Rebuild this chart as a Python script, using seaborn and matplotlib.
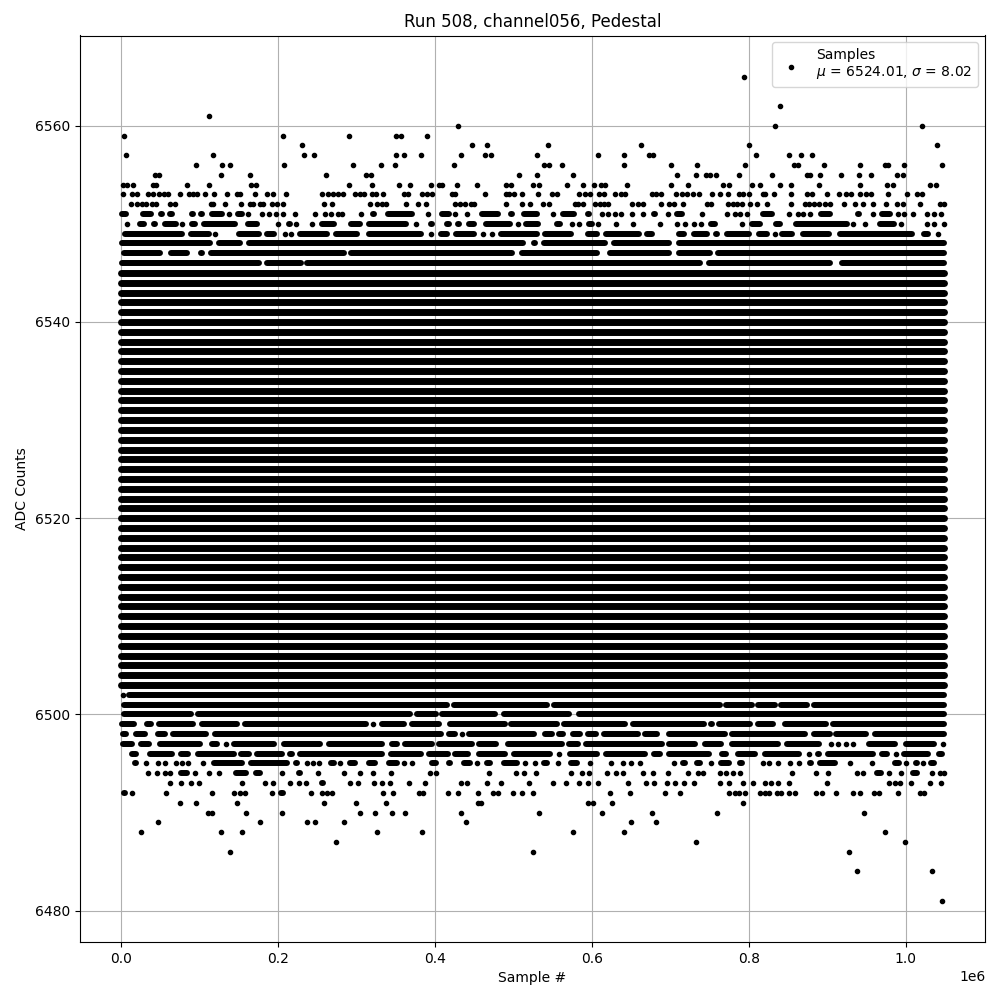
import matplotlib
matplotlib.use("Agg")
import matplotlib.pyplot as plt
import pandas as pd
import seaborn as sns

# sample positions in thousands
# a plain number is one dot, a tuple is a stretch of touching dots (outer edges)
row_6565 = [794]
row_6562 = [839]
row_6561 = [112]
row_6560 = [429, 833, 1020]
row_6559 = [4, 206, 290, 350, 357, 390]
row_6558 = [231, 447, 466, 544, 662, 800, 1039]
row_6557 = [6, 117, 233, 246, 350, 360, 382, 433, 464, 471, 530, 608, 641, 673, 678, 809, 851, 866, 880]
row_6556 = [96, 129, 139, 208, 296, 331, 349, 424, 539, 545, 562, 641, 701, 734, 795, 857, 862, 896, 941, 973, 977, 997, 1046]
row_6555 = [43, 48, 127, 164, 261, 312, 318, 507, 530, 576, 708, 732, 745, 750, 758, 787, 829, 874, 878, 890, 917, 940, 955, 989, 996]
row_6554 = [2.5, 8, 15, 40, 44, 84, 112, 166, 172, 290, 320, 354, 368, 395, 405, 409, 428, 453, 490, 497, 525, 532, 568, 589,
            602, 612, 616, 644, 701, 722, 767, 775, 804, 814, 839, 853, 889, 941, 976, 984, 1031, 1038]
row_6553 = [2.5, 14, 20, 34, 41, 48, 54, 60, 75, 87, 92, 97, 107, 118, 135, 147, 152, 171, 186, 193, 210, 256, 264, 270, 276,
            283, 298, 304, 310, 320, 325, 334, 361, 366, 383, 390, 396, 421, 426, 464, 490, 494, 500, 511, 531, 549, 555,
            583, 591, 598, 609, 615, 629, 637, 642, 676, 682, 688, 707, 715, 721, 729, 736, 753, 763, 773, 787, 792, 800,
            818, 821, 832, 854, 874, 880, 899, 915, 924, 930, 941, 949, 955, 977, 1001, 1014, 1020]
row_6552 = [13, 20, 26, 32, 39, 44, 62, 69, 114, 117, 132, 153, 164, 168, 177, 181, 192, 198, 206, 259, 269, 317, 326, 332, 338,
            363, 378, 389, 425, 432, 438, 446, 450, 490, 511, 521, 538, 545, 578, 582, 589, 604, 610, 615, 620, 651, 659, 665,
            688, 698, 704, 716, 746, 751, 773, 780, 785, 791, 801, 810, 823, 853, 871, 876, 883, 889, 897, 903, 921, 935, 945,
            958, 974, 988, 996, 1018, 1043, 1048]
row_6551 = [(-2, 9), (25, 42), (48, 56), (59, 68), (87, 95), (98, 107), (112, 132), (134, 140), (145, 157), 162, 180, 189, 197,
            (204, 208), 222, 247, 260, 268, 276, 281, 305, (317, 325), (336, 374), 391, (405, 421), 425, 441, (457, 484),
            (494, 501), (510, 533), 550, (559, 580), (591, 600), 613, 620, 629, 637, 651, 665, (676, 684), 697, (705, 718),
            740, (769, 775), 782, 788, 798, (814, 833), 851, 862, 869, (875, 881), (889, 907), (913, 920), (936, 944), 958,
            (966, 983), 990, 998, (1007, 1011), (1024, 1030), 1036, 1045]
row_6550 = [7, (20, 32), (39, 47), (53, 73), 78, (87, 98), (102, 149), (158, 177), 200, (211, 218), 223, 243, (252, 274),
            (289, 308), (313, 366), 376, (391, 400), (412, 421), (426, 434), (440, 453), (461, 499), 506, (512, 535), (552, 563),
            574, 583, (593, 603), 608, (616, 623), 630, (637, 644), 652, (673, 680), (684, 690), 708, (716, 722), 730, 739,
            (748, 760), 791, (801, 817), (831, 843), (856, 928), 932, 948, (964, 988), 994, (1005, 1012), 1027, (1033, 1039), 1048]
row_6549 = [(1, 81), (85, 115), 120, (138, 145), (147, 179), (183, 198), 209, 217, (225, 266), (270, 304), (312, 385), (393, 397),
            (404, 418), (423, 453), (459, 463), 473, (481, 533), (537, 576), (591, 610), (614, 663), (667, 680), (688, 695),
            (708, 720), (727, 750), (754, 763), (769, 803), (809, 826), 833, (839, 858), (865, 905), (913, 1011), (1020, 1032), 1041]
row_6548 = [(-2, 117), (121, 155), (159, 516), (523, 531), (535, 620), (625, 701), (707, 1052)]
row_6547 = [(0, 53), (60, 87), (98, 107), (111, 287), (290, 501), (508, 610), (620, 701), (707, 754), (757, 1052)]
row_6546 = [(-2, 179), (183, 232), (234, 741), (746, 907), (915, 1052)]

# these rows are unbroken over the whole record
full_rows = [6503, 6504, 6505, 6506, 6507, 6508, 6509, 6510, 6511, 6512, 6513, 6514, 6515, 6516, 6517, 6518, 6519, 6520, 6521,
             6522, 6523, 6524, 6525, 6526, 6527, 6528, 6529, 6530, 6531, 6532, 6533, 6534, 6535, 6536, 6537, 6538, 6539, 6540,
             6541, 6542, 6543, 6544, 6545]

row_6502 = [3, (7, 1052)]
row_6501 = [(0, 418), (421, 546), (548, 767), (767, 807), (808, 837), (838, 877), (879, 1052)]
row_6500 = [(0, 92), (95, 371), (374, 405), (406, 480), (484, 574), (580, 1052)]
row_6499 = [(-2, 20), (29, 42), (45, 95), (100, 151), (155, 315), 321, (329, 364), (367, 409), (416, 492), (494, 559), (561, 645),
            (649, 746), (748, 756), (759, 805), (808, 834), (843, 901), (904, 1052)]
row_6498 = [(-1, 10), (16, 34), (44, 59), (63, 111), (116, 411), (414, 429), 434, (440, 529), (537, 552), (555, 567), (572, 588),
            (591, 608), (612, 662), (664, 686), (695, 773), (775, 875), (879, 907), (908, 952), (957, 1052)]
row_6497 = [(-1, 17), (22, 39), (46, 104), (112, 126), 133, (141, 198), (204, 257), (262, 336), (342, 355), (358, 400), (401, 451),
            (453, 481), (490, 565), (567, 586), (589, 693), (695, 735), (741, 768), (775, 841), (845, 892), 904, 913, 924, 933,
            (949, 990), (997, 1039), 1047]
row_6496 = [(-2, 5), (11, 22), (33, 68), (73, 88), (94, 147), (149, 166), (170, 208), (212, 221), (225, 336), (340, 385),
            (389, 420), (422, 445), (452, 493), (497, 550), (555, 561), (568, 610), (615, 671), (676, 690), (695, 753), (762, 774),
            (783, 811), (817, 867), 876, (884, 892), (897, 962), (966, 979), 987, (994, 1031), (1039, 1049)]
row_6495 = [(-2, 5), (14, 22), 32, 47, 56, 70, 78, 85, 104, (115, 158), (162, 215), (219, 228), 237, 245, 252, (264, 274), 279,
            (288, 301), (313, 327), (338, 355), 361, 371, (380, 387), (393, 405), (414, 423), (434, 448), 453, (463, 474),
            (484, 508), 515, 527, (535, 546), 557, (570, 584), 597, 624, 639, 650, 661, (689, 697), 704, (712, 722), (731, 741),
            751, (761, 778), (785, 794), 818, 825, 837, 852, 864, (874, 882), (887, 913), 929, 957, (969, 976), (983, 994), 1000,
            (1009, 1017), 1022, (1028, 1039)]
row_6494 = [34, 46, 56, 62, (73, 87), 94, 112, 125, (143, 162), (168, 180), 205, (223, 231), 251, (268, 275), 284, (302, 307), 321,
            344, 394, 401, 469, 503, 513, 528, 573, 587, 596, 619, 631, 639, 665, (675, 680), 697, 722, 735, 741, (761, 765), 771,
            780, 788, (805, 812), 855, 885, 901, 938, 945, (960, 971), 978, (992, 996), (1005, 1017), 1033, 1043, 1048]
row_6493 = [62, 76, 89, 99, (139, 146), 154, 183, 194, 215, 227, 235, (253, 261), 292, 302, (319, 325), 332, (340, 346), 367, 387,
            433, 441, 466, 484, 520, 550, 567, 583, 595, 608, 646, 669, 679, 695, 706, 717, 730, 763, (771, 777), 792, 805, 820,
            828, 837, 851, 899, 978, 986, 992, 1006, 1031, (1043, 1047)]
row_6492 = [(0, 8), 14, 57, (113, 119), 144, 152, 158, 192, (200, 210), 242, 256, 262, 269, 334, 346, 380, 385, 417, 429, 455, 474,
            480, 499, 511, 525, 623, 648, 693, 712, 775, 782, 787, 795, 814, 820, 825, 836, 841, 851, 859, 885, 893, 911, 932, 941,
            959, 966, 990, 1018, 1023]
row_6491 = [75, 96, 148, 259, 299, 338, 455, 459, 595, 601, 625, 792]
row_6490 = [111, 116, 159, 205, 304, 324, 345, 362, 433, 532, 613, 676, 759, 946]
row_6489 = [47, 177, 237, 247, 284, 440, 650, 682]
row_6488 = [25, 127, 154, 326, 383, 576, 641, 973]
row_6487 = [274, 732, 999]
row_6486 = [139, 525, 927]
row_6484 = [938, 1033]
row_6481 = [1046]

last_sample = 1048.576
dot_radius = 3.4  # thousand samples, about 2.7 px

sparse_rows = [
    (6565, row_6565), (6562, row_6562), (6561, row_6561), (6560, row_6560), (6559, row_6559), (6558, row_6558),
    (6557, row_6557), (6556, row_6556), (6555, row_6555), (6554, row_6554), (6553, row_6553), (6552, row_6552),
    (6551, row_6551), (6550, row_6550), (6549, row_6549), (6548, row_6548), (6547, row_6547), (6546, row_6546),
    (6502, row_6502), (6501, row_6501), (6500, row_6500), (6499, row_6499), (6498, row_6498), (6497, row_6497),
    (6496, row_6496), (6495, row_6495), (6494, row_6494), (6493, row_6493), (6492, row_6492), (6491, row_6491),
    (6490, row_6490), (6489, row_6489), (6488, row_6488), (6487, row_6487), (6486, row_6486), (6484, row_6484),
    (6481, row_6481),
]

dots = []
segs = []
for level, row in sparse_rows:
    for item in row:
        if isinstance(item, tuple):
            lo = max(item[0] + dot_radius, 0)
            hi = min(item[1] - dot_radius, last_sample)
            if hi <= lo:
                dots.append((level, (lo + hi) / 2))
            else:
                segs.append((level, lo, hi))
        else:
            dots.append((level, item))

# anchor the end of the record so the x limits come out right
dots.append((6524, 0))
dots.append((6524, last_sample))

df = pd.DataFrame(dots, columns=["adc", "sample"])
df["sample"] = df["sample"] * 1000
seg_df = pd.DataFrame(segs, columns=["adc", "lo", "hi"])

fig, ax = plt.subplots(figsize=(10, 10))
sns.scatterplot(data=df, x="sample", y="adc", marker=".", s=36, color="black", edgecolor="black",
                linewidth=1, zorder=2, ax=ax, label="Samples\n$\\mu$ = 6524.01, $\\sigma$ = 8.02")
ax.hlines(seg_df["adc"], seg_df["lo"] * 1000, seg_df["hi"] * 1000, colors="black", linewidth=4.3,
          capstyle="round", zorder=2)
ax.hlines(full_rows, 0, last_sample * 1000, colors="black", linewidth=5, capstyle="round", zorder=2)

ax.set_title("Run 508, channel056, Pedestal")
ax.set_xlabel("Sample #")
ax.set_ylabel("ADC Counts")
ax.grid(True)
ax.legend(loc="upper right")

fig.subplots_adjust(left=0.08, right=0.9852, top=0.9645, bottom=0.058)
fig.savefig("out.png", dpi=100)
